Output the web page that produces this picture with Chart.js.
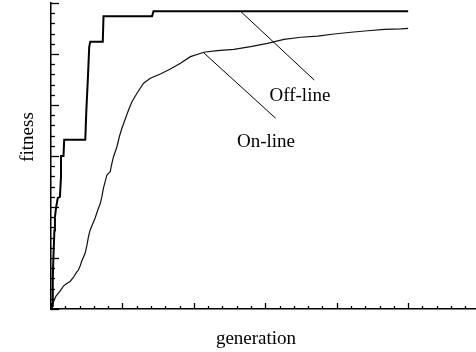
<!DOCTYPE html>
<html>
<head>
<meta charset="utf-8">
<script src="https://cdn.jsdelivr.net/npm/chart.js@4"></script>
<style>
  html, body { margin: 0; padding: 0; background: #fff; }
  #wrap { width: 476px; height: 352px; position: relative; }
</style>
</head>
<body>
<div id="wrap"><canvas id="fitChart"></canvas></div>
<script>
// best-so-far (off-line) fitness per generation
const offGen = [0, 0.35, 0.5, 0.65, 0.95, 1.1, 1.4, 1.9, 2.5, 2.8, 2.8, 3.5, 3.7, 9.6, 9.9, 10.3, 10.7, 11.0, 14.5, 14.7, 28.3, 28.7, 100];
const offFit = [0, 0.3, 3.0, 4.8, 7.7, 9.0, 9.9, 10.9, 11.0, 13.0, 15.0, 15.0, 16.6, 16.6, 19.5, 22.4, 25.7, 26.2, 26.2, 28.7, 28.7, 29.2, 29.2];

// running average (on-line) fitness
const onGen = [0, 0.28, 0.70, 1.40, 2.53, 3.46, 4.41, 5.34, 6.26, 7.22, 7.67, 8.15, 8.62, 9.55, 10.03,
  10.48, 10.96, 11.43, 12.36, 13.29, 13.76, 14.24, 14.69, 15.65, 16.57, 17.05, 17.50, 18.46, 19.19, 19.86,
  20.79, 21.71, 22.67, 24.07, 25.93, 27.81, 30.62, 33.43, 36.24, 39.05, 42.78, 46.54, 51.21, 55.90, 60.59,
  65.25, 69.94, 74.63, 79.30, 83.99, 88.68, 93.34, 98.03, 100];
const onFit = [0, 0.29, 0.72, 1.27, 1.76, 2.25, 2.50, 2.70, 3.09, 3.63, 3.82, 4.22, 4.71, 5.46, 6.18,
  7.06, 7.75, 8.14, 8.92, 9.90, 10.29, 11.01, 11.86, 13.14, 13.46, 14.28, 14.93, 15.91, 16.96, 17.72,
  18.63, 19.51, 20.32, 21.15, 22.13, 22.62, 23.04, 23.53, 24.09, 24.74, 25.17, 25.34, 25.46, 25.72, 26.05,
  26.44, 26.64, 26.76, 26.96, 27.13, 27.28, 27.42, 27.47, 27.52];

// axis ranges and tick spacing (no tick labels are shown)
const xRange = [0, 119];
const yRange = [0, 30];
const xMinorStep = 4, xMajorEvery = 5;
const yMinorStep = 1, yMajorEvery = 5;

// curve labels with leader lines: [generation, fitness]
const callouts = [
  { text: 'Off-line', from: [52.9, 29.24], to: [73.7, 22.45], at: [69.7, 20.44] },
  { text: 'On-line', from: [42.6, 25.17], to: [62.9, 18.7], at: [60.2, 15.9] }
];

const FONT = '19px "Liberation Serif", "Times New Roman", serif';

const pts = (xs, ys) => xs.map((v, i) => ({ x: v, y: ys[i] }));

const decorations = {
  id: 'decorations',
  afterDraw(chart) {
    const { ctx, scales: { x, y } } = chart;
    ctx.save();
    ctx.strokeStyle = '#000';
    ctx.fillStyle = '#000';

    // inward tick marks
    ctx.lineWidth = 1.3;
    let i = 0;
    for (let g = xRange[0]; g <= xRange[1]; g += xMinorStep, i++) {
      const px = Math.round(x.getPixelForValue(g)) + 0.5;
      const len = i % xMajorEvery === 0 ? 6 : 3;
      ctx.beginPath();
      ctx.moveTo(px, y.bottom);
      ctx.lineTo(px, y.bottom - len);
      ctx.stroke();
    }
    i = 0;
    for (let f = yRange[0]; f <= yRange[1]; f += yMinorStep, i++) {
      const py = Math.round(y.getPixelForValue(f)) + 0.5;
      const len = i % yMajorEvery === 0 ? 8 : 4;
      ctx.beginPath();
      ctx.moveTo(x.left, py);
      ctx.lineTo(x.left + len, py);
      ctx.stroke();
    }

    // leader lines and curve names
    ctx.lineWidth = 1;
    ctx.font = FONT;
    ctx.textAlign = 'center';
    ctx.textBaseline = 'alphabetic';
    callouts.forEach(c => {
      ctx.beginPath();
      ctx.moveTo(x.getPixelForValue(c.from[0]), y.getPixelForValue(c.from[1]));
      ctx.lineTo(x.getPixelForValue(c.to[0]), y.getPixelForValue(c.to[1]));
      ctx.stroke();
      ctx.fillText(c.text, x.getPixelForValue(c.at[0]), y.getPixelForValue(c.at[1]));
    });

    // axis titles
    ctx.fillText('generation', 256, 344);
    ctx.translate(33, 137);
    ctx.rotate(-Math.PI / 2);
    ctx.fillText('fitness', 0, 0);
    ctx.restore();
  }
};

const ctx = document.getElementById('fitChart').getContext('2d');
new Chart(ctx, {
  type: 'line',
  data: {
    datasets: [
      {
        label: 'Off-line',
        data: pts(offGen, offFit),
        borderColor: '#000',
        borderWidth: 2,
        pointRadius: 0,
        tension: 0
      },
      {
        label: 'On-line',
        data: pts(onGen, onFit),
        borderColor: '#111',
        borderWidth: 1.2,
        pointRadius: 0,
        tension: 0
      }
    ]
  },
  options: {
    responsive: true,
    maintainAspectRatio: false,
    animation: false,
    layout: { padding: { left: 51, top: 3, right: 0, bottom: 43 } },
    plugins: {
      legend: { display: false },
      tooltip: { enabled: false }
    },
    scales: {
      x: {
        type: 'linear',
        min: xRange[0],
        max: xRange[1],
        grid: { display: false, drawTicks: false, tickLength: 0 },
        ticks: { display: false, padding: 0 },
        border: { color: '#000', width: 1.5 }
      },
      y: {
        type: 'linear',
        min: yRange[0],
        max: yRange[1],
        grid: { display: false, drawTicks: false, tickLength: 0 },
        ticks: { display: false, padding: 0 },
        border: { color: '#000', width: 1.5 }
      }
    }
  },
  plugins: [decorations]
});
</script>
</body>
</html>
